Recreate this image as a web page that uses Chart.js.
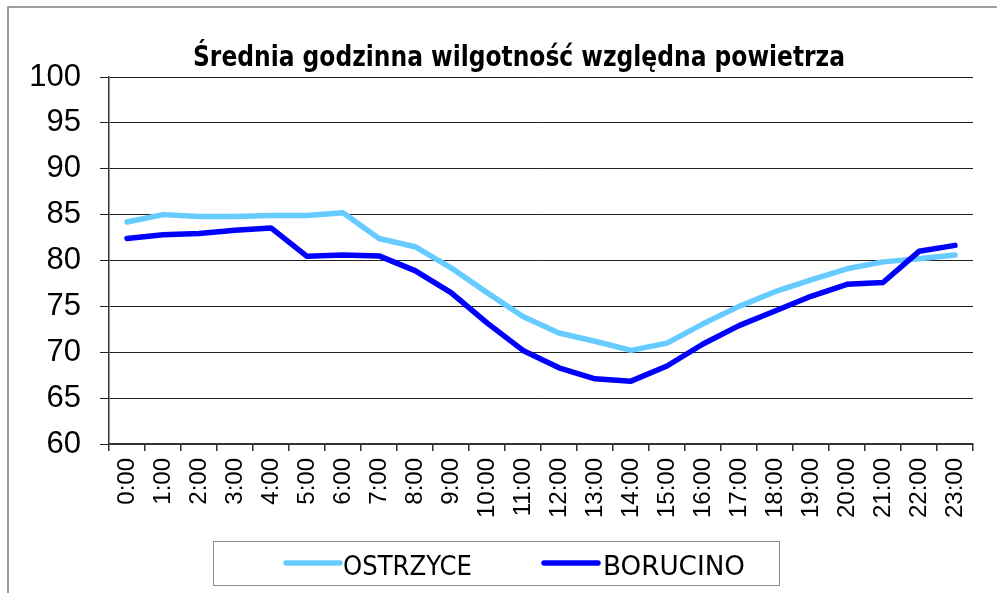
<!DOCTYPE html>
<html>
<head>
<meta charset="utf-8">
<script src="https://cdn.jsdelivr.net/npm/chart.js@4/dist/chart.umd.min.js"></script>
<style>
  html, body { margin: 0; padding: 0; background: #fff; }
  #wrap { width: 997px; height: 593px; }
</style>
</head>
<body>
<div id="wrap"><canvas id="myChart" width="997" height="593"></canvas></div>
<script>
const godziny = ['0:00', '1:00', '2:00', '3:00', '4:00', '5:00', '6:00', '7:00', '8:00', '9:00', '10:00', '11:00',
  '12:00', '13:00', '14:00', '15:00', '16:00', '17:00', '18:00', '19:00', '20:00', '21:00', '22:00', '23:00'];
const ostrzyce = [84.2, 85.0, 84.8, 84.8, 84.9, 84.9, 85.2, 82.4, 81.5, 79.2, 76.5, 73.9,
  72.1, 71.2, 70.2, 71.0, 73.1, 75.0, 76.6, 77.9, 79.1, 79.85, 80.2, 80.6];
const borucino = [82.4, 82.8, 82.95, 83.3, 83.55, 80.45, 80.6, 80.5, 78.9, 76.5, 73.2, 70.2,
  68.3, 67.1, 66.85, 68.5, 70.9, 72.9, 74.5, 76.1, 77.4, 77.6, 81.0, 81.65];
const tytul = 'Średnia godzinna wilgotność względna powietrza';

const wąski = '"Liberation Sans Narrow", "DejaVu Sans Condensed", "Open Sans", sans-serif';

// rysuje tekst dopasowany do zadanej szerokosci
function tekstNaSzer(ctx, txt, x, y, w) {
  const m = ctx.measureText(txt).width;
  ctx.save();
  ctx.translate(x, y);
  ctx.scale(w / m, 1);
  ctx.textAlign = 'left';
  ctx.fillText(txt, 0, 0);
  ctx.restore();
}

const ramka = {
  id: 'ramka',
  afterDraw(chart) {
    const ctx = chart.ctx;
    ctx.save();
    // obramowanie wykresu
    ctx.strokeStyle = '#808080';
    ctx.lineWidth = 1.5;
    ctx.beginPath();
    ctx.moveTo(8, 600);
    ctx.lineTo(8, 7);
    ctx.lineTo(1000, 7);
    ctx.stroke();

    // tytul
    ctx.fillStyle = '#000';
    ctx.textBaseline = 'alphabetic';
    ctx.font = 'bold 29px ' + wąski;
    tekstNaSzer(ctx, tytul, 193, 66, 652);

    // legenda
    ctx.strokeStyle = '#8c8c8c';
    ctx.lineWidth = 1;
    ctx.strokeRect(213.5, 541.5, 566, 44);
    const poz = [{ x1: 286, x2: 340, tx: 343, w: 129 }, { x1: 544, x2: 598, tx: 603, w: 142 }];
    chart.data.datasets.forEach((ds, i) => {
      const p = poz[i];
      ctx.strokeStyle = ds.borderColor;
      ctx.lineWidth = 5.5;
      ctx.lineCap = 'round';
      ctx.beginPath();
      ctx.moveTo(p.x1, 563);
      ctx.lineTo(p.x2, 563);
      ctx.stroke();
      ctx.fillStyle = '#000';
      ctx.font = '27px ' + wąski;
      tekstNaSzer(ctx, ds.label, p.tx, 575, p.w);
    });
    ctx.restore();
  }
};

const data = {
  labels: godziny,
  datasets: [
    {
      label: 'OSTRZYCE',
      data: ostrzyce,
      borderColor: '#66CCFF',
      borderWidth: 5.5,
      borderCapStyle: 'round',
      borderJoinStyle: 'round',
      pointRadius: 0,
      tension: 0,
      order: 1
    },
    {
      label: 'BORUCINO',
      data: borucino,
      borderColor: '#0000FF',
      borderWidth: 5.5,
      borderCapStyle: 'round',
      borderJoinStyle: 'round',
      pointRadius: 0,
      tension: 0,
      order: 0
    }
  ]
};

const config = {
  type: 'line',
  data,
  options: {
    responsive: false,
    animation: false,
    events: [],
    layout: { padding: { top: 77, right: 24, left: 0, bottom: 0 } },
    plugins: {
      legend: { display: false },
      title: { display: false },
      tooltip: { enabled: false }
    },
    scales: {
      x: {
        offset: true,
        grid: { offset: true, drawOnChartArea: false, drawTicks: true, tickLength: 7, color: '#333', lineWidth: 1.5 },
        border: { color: '#333', width: 2 },
        ticks: {
          maxRotation: 90, minRotation: 90, autoSkip: false, padding: 7,
          color: '#000',
          font: { family: '"Liberation Sans", Arial, sans-serif', size: 24 }
        },
        afterFit(scale) { scale.height = 593 - 444; }
      },
      y: {
        min: 60, max: 100,
        grid: { color: '#222', lineWidth: 1, tickLength: 9 },
        border: { color: '#333', width: 1.5 },
        ticks: {
          stepSize: 5, padding: 19,
          color: '#000',
          font: { family: '"Liberation Sans", Arial, sans-serif', size: 31 }
        },
        afterFit(scale) { scale.width = 109; }
      }
    }
  },
  plugins: [ramka]
};

const myChart = new Chart(document.getElementById('myChart'), config);
</script>
</body>
</html>
